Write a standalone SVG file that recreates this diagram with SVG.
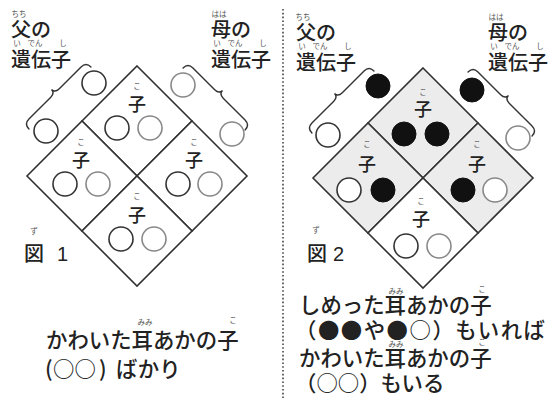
<svg xmlns="http://www.w3.org/2000/svg" width="550" height="398" viewBox="0 0 550 398">
<style>
text{font-family:"Noto Sans CJK JP","Noto Sans",sans-serif;fill:#222;font-weight:500}
.h{font-size:20px}
.r{font-size:7.5px;fill:#555;text-anchor:middle;font-weight:400}
.k{font-size:18px;text-anchor:middle}
.b{font-size:21.4px}
.cell{stroke:#333;stroke-width:1.6;stroke-linejoin:miter}
.dk{fill:#fff;stroke:#333;stroke-width:1.6}
.gy{fill:#fff;stroke:#888;stroke-width:1.6}
.bk{fill:#111;stroke:#111;stroke-width:1}
.br{fill:none;stroke:#333;stroke-width:1.4;stroke-linecap:round}
</style>
<defs>
<path id="brace" d="M0,7 C0,2 2,0 7,0 L37.8,0 C41.8,0 43.8,-2 43.8,-5 C43.8,-2 45.8,0 49.8,0 L80.7,0 C85.7,0 87.7,2 87.7,7"/>
<path id="brace2" d="M0,7 C0,2 2,0 7,0 L39.2,0 C43.2,0 45.2,-2 45.2,-5 C45.2,-2 47.2,0 51.2,0 L83.5,0 C88.5,0 90.5,2 90.5,7"/>
</defs>
<rect width="550" height="398" fill="#fff"/>

<g id="divider">
<line x1="283" y1="9" x2="283" y2="398" stroke="#444" stroke-width="1.6" stroke-dasharray="1.6 2.2"/>
</g>

<!-- ===== Figure 1 ===== -->
<g id="fig1-labels">
<text class="r" x="19" y="17">ちち</text>
<text class="h" x="11" y="37">父の</text>
<text class="r" y="46"><tspan x="17">い</tspan><tspan x="35">でん</tspan><tspan x="63">し</tspan></text>
<text class="h" x="11" y="67">遺伝子</text>
<text class="r" x="219" y="17">はは</text>
<text class="h" x="211" y="37">母の</text>
<text class="r" y="46"><tspan x="217">い</tspan><tspan x="235">でん</tspan><tspan x="263">し</tspan></text>
<text class="h" x="211" y="67">遺伝子</text>
</g>

<g id="fig1-braces">
<use href="#brace" class="br" transform="translate(86,62) rotate(135) scale(1,-1)"/>
<use href="#brace" class="br" transform="translate(188,63) rotate(45)"/>
</g>

<g id="fig1-parents">
<circle class="dk" cx="94" cy="83" r="12"/>
<circle class="dk" cx="46" cy="131" r="12"/>
<circle class="gy" cx="183" cy="85" r="12"/>
<circle class="gy" cx="232" cy="134" r="12"/>
</g>

<g id="fig1-top">
<polygon class="cell" fill="#fff" points="137,66 192,121 137,176 82,121"/>
<text class="r" x="137" y="89">こ</text><text class="k" x="137" y="111">子</text>
<circle class="dk" cx="117" cy="128" r="12"/><circle class="gy" cx="150" cy="128" r="12"/>
</g>
<g id="fig1-left">
<polygon class="cell" fill="#fff" points="82,121 137,176 82,231 27,176"/>
<text class="r" x="81" y="145">こ</text><text class="k" x="81" y="167">子</text>
<circle class="dk" cx="65" cy="184" r="12"/><circle class="gy" cx="98" cy="184" r="12"/>
</g>
<g id="fig1-right">
<polygon class="cell" fill="#fff" points="192,121 247,176 192,231 137,176"/>
<text class="r" x="194" y="145">こ</text><text class="k" x="194" y="167">子</text>
<circle class="dk" cx="178" cy="184" r="12"/><circle class="gy" cx="210" cy="184" r="12"/>
</g>
<g id="fig1-bottom">
<polygon class="cell" fill="#fff" points="137,176 192,231 137,286 82,231"/>
<text class="r" x="137" y="199">こ</text><text class="k" x="137" y="222">子</text>
<circle class="dk" cx="121" cy="239" r="12"/><circle class="gy" cx="154" cy="239" r="12"/>
</g>

<g id="fig1-caption">
<text class="r" x="34" y="234">ず</text>
<text class="h" x="24" y="261" style="font-size:20px">図</text>
<text x="57" y="261" style="font-size:20px;font-family:'Liberation Sans',sans-serif;font-weight:400">1</text>
</g>

<g id="fig1-note">
<text class="r" x="145" y="325">みみ</text>
<text class="r" x="233" y="323">こ</text>
<text class="b" x="46" y="348">かわいた耳あかの子</text>
<text class="b" y="377"><tspan x="45">(</tspan><tspan x="53">○○</tspan><tspan x="99">)</tspan><tspan x="116">ばかり</tspan></text>
</g>

<!-- ===== Figure 2 ===== -->
<g id="fig2-labels">
<text class="r" x="303" y="20">ちち</text>
<text class="h" x="296" y="40">父の</text>
<text class="r" y="49"><tspan x="302">い</tspan><tspan x="320">でん</tspan><tspan x="348">し</tspan></text>
<text class="h" x="296" y="70">遺伝子</text>
<text class="r" x="496" y="20">はは</text>
<text class="h" x="488" y="40">母の</text>
<text class="r" y="49"><tspan x="494">い</tspan><tspan x="512">でん</tspan><tspan x="540">し</tspan></text>
<text class="h" x="488" y="70">遺伝子</text>
</g>

<g id="fig2-braces">
<use href="#brace" class="br" transform="translate(369,66) rotate(135) scale(1,-1)"/>
<use href="#brace2" class="br" transform="translate(473,67) rotate(45)"/>
</g>

<g id="fig2-parents">
<circle class="bk" cx="378" cy="86" r="12"/>
<circle class="dk" cx="328" cy="135" r="12"/>
<circle class="bk" cx="472" cy="90" r="12"/>
<circle class="gy" cx="518" cy="138" r="12"/>
</g>

<g id="fig2-top">
<polygon class="cell" fill="#ececec" points="423,68 478,123 423,178 368,123"/>
<text class="r" x="423" y="95">こ</text><text class="k" x="423" y="116">子</text>
<circle class="bk" cx="404" cy="134" r="12"/><circle class="bk" cx="437" cy="134" r="12"/>
</g>
<g id="fig2-left">
<polygon class="cell" fill="#ececec" points="368,123 423,178 368,233 313,178"/>
<text class="r" x="367" y="147">こ</text><text class="k" x="367" y="171">子</text>
<circle class="dk" cx="349" cy="190" r="12"/><circle class="bk" cx="383" cy="190" r="12"/>
</g>
<g id="fig2-right">
<polygon class="cell" fill="#ececec" points="478,123 533,178 478,233 423,178"/>
<text class="r" x="477" y="147">こ</text><text class="k" x="477" y="171">子</text>
<circle class="bk" cx="463" cy="190" r="12"/><circle class="gy" cx="495" cy="190" r="12"/>
</g>
<g id="fig2-bottom">
<polygon class="cell" fill="#fff" points="423,178 478,233 423,288 368,233"/>
<text class="r" x="421" y="204">こ</text><text class="k" x="421" y="226">子</text>
<circle class="dk" cx="406" cy="246" r="12"/><circle class="gy" cx="439" cy="246" r="12"/>
</g>

<g id="fig2-caption">
<text class="r" x="316" y="233">ず</text>
<text class="h" x="307" y="261" style="font-size:20px">図</text>
<text x="333" y="261" style="font-size:20px;font-family:'Liberation Sans',sans-serif;font-weight:400">2</text>
</g>

<g id="fig2-note">
<text class="r" x="396" y="294">みみ</text>
<text class="r" x="482" y="292">こ</text>
<text class="b" x="299" y="313">しめった耳あかの子</text>
<text class="b" x="295" y="338" textLength="250" lengthAdjust="spacing">（●●や●○）もいれば</text>
<text class="r" x="396" y="347">みみ</text>
<text class="r" x="482" y="345">こ</text>
<text class="b" x="299" y="366">かわいた耳あかの子</text>
<text class="b" x="295" y="391">（○○）もいる</text>
</g>
</svg>
